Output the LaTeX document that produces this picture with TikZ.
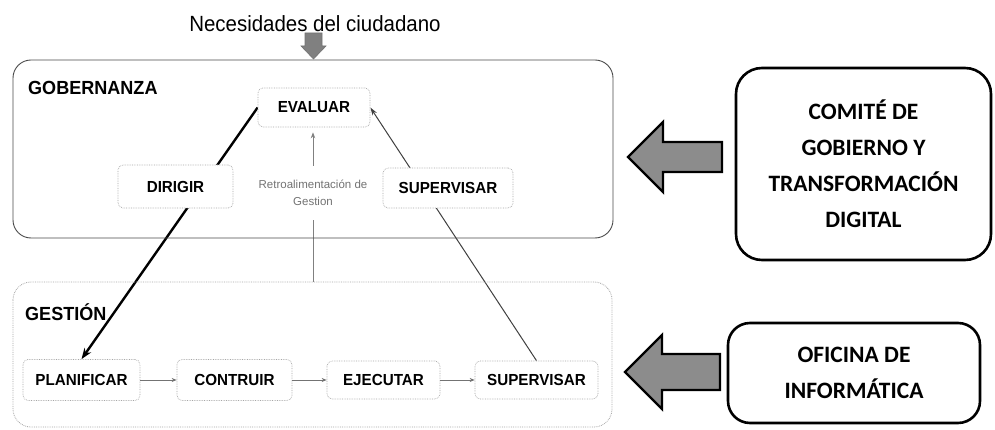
\documentclass[tikz,border=0pt]{standalone}
\usepackage{fontspec}
\setmainfont{Liberation Sans}
\newfontfamily\narrowsans[FakeStretch=0.93]{Liberation Sans}
\newfontfamily\labsans[FakeStretch=0.95]{Liberation Sans}
\newfontfamily\calib{Carlito}
\usetikzlibrary{arrows.meta,backgrounds}
\tikzset{
  inbox/.style={draw=black!35, densely dotted, line width=0.7pt, rounded corners=5pt,
    fill=white, inner sep=0pt, font=\labsans\fontsize{16}{18}\selectfont\bfseries},
  bigbox/.style={draw=black, line width=2.6pt, rounded corners=26pt, inner sep=0pt,
    align=center, font=\calib\fontsize{23.5}{36}\selectfont\bfseries},
  flowarrow/.style={draw=black!55, line width=0.8pt, -{Stealth[length=5pt,width=4pt]}},
  blockarrow/.style={draw=black, line width=2.4pt, fill=black!45, line join=miter},
  grouplabel/.style={anchor=west, inner sep=0pt, font=\labsans\fontsize{19}{22}\selectfont\bfseries}
}
\begin{document}
\begin{tikzpicture}[x=1pt,y=-1pt]
\useasboundingbox (0,0) rectangle (995,430);

% title and its arrow
\node[inner sep=0pt, font=\narrowsans\fontsize{22}{26}\selectfont] (title) at (315,24) {Necesidades del ciudadano};
\draw[draw=black!55, line width=0.6pt, fill=black!50]
  (305,33) -- (322,33) -- (322,46) -- (326,46) -- (313.5,59) -- (301,46) -- (305,46) -- cycle;

% containers
\draw[draw=black!70, line width=0.9pt, rounded corners=18pt] (13,60) rectangle (613,238);
\node[grouplabel] (gob) at (28,88) {GOBERNANZA};
\draw[draw=black!35, densely dotted, line width=0.8pt, rounded corners=18pt] (13,282) rectangle (612,427);
\node[grouplabel] (ges) at (25,312) {GESTIÓN};

% governance nodes
\node[inbox, minimum width=112, minimum height=39] (ev) at (314,107.5) {EVALUAR};
\node[inbox, minimum width=115, minimum height=43] (di) at (175.5,186.5) {DIRIGIR};
\node[inbox, minimum width=130, minimum height=40] (sg) at (448,188) {SUPERVISAR};

% management nodes
\node[inbox, minimum width=117, minimum height=41] (pl) at (81.5,380) {PLANIFICAR};
\node[inbox, minimum width=115, minimum height=41] (co) at (234.5,380) {CONTRUIR};
\node[inbox, minimum width=113, minimum height=38] (ej) at (383.5,380) {EJECUTAR};
\node[inbox, minimum width=123, minimum height=38] (sb) at (536.5,380) {SUPERVISAR};

\coordinate (gt) at (313,282);

\begin{scope}[on background layer]
  \fill[white] (0,0) rectangle (995,430);
  \draw[line width=2.4pt, -{Stealth[length=11pt,width=8pt]}] (ev.west) -- (pl.north);
  \draw[draw=black!75, line width=1pt, -{Stealth[length=8pt,width=5pt]}] (sb.north) -- (ev.east);
  \draw[draw=black!50, line width=0.9pt, shorten >=5pt, -{Stealth[length=6pt,width=4.5pt]}] (gt) -- (gt |- ev.south);
\end{scope}

\node[fill=white, inner sep=2pt, align=center, text=black!55,
  font=\fontsize{11.5}{17}\selectfont, minimum height=54] (retro) at (313,193) {Retroalimentación de\\Gestion};

\draw[flowarrow] (pl) -- (co);
\draw[flowarrow] (co) -- (ej);
\draw[flowarrow] (ej) -- (sb);

% right side boxes
\node[bigbox, minimum width=255, minimum height=192] (comite) at (863.5,164)
  {COMITÉ DE\\GOBIERNO Y\\TRANSFORMACIÓN\\DIGITAL};
\node[bigbox, rounded corners=22pt, minimum width=252, minimum height=100] (ofi) at (854,373)
  {OFICINA DE\\INFORMÁTICA};

% block arrows
\draw[blockarrow] (628,157) -- (663,122) -- (663,142) -- (722,142) -- (722,172) -- (663,172) -- (663,192) -- cycle;
\draw[blockarrow] (625,372) -- (662,335) -- (662,354) -- (720,354) -- (720,390) -- (662,390) -- (662,409) -- cycle;
\end{tikzpicture}
\end{document}
